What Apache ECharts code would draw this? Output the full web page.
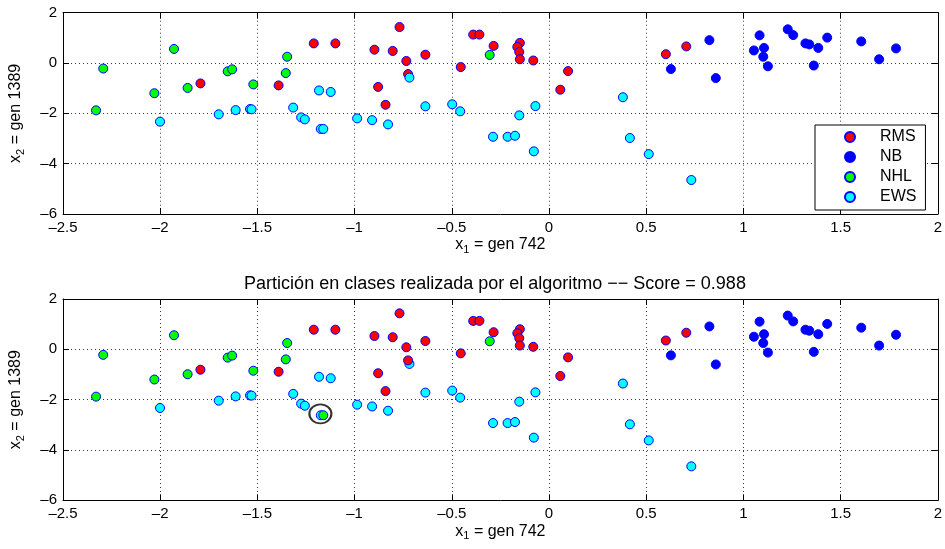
<!DOCTYPE html>
<html>
<head>
<meta charset="utf-8">
<script src="https://cdn.jsdelivr.net/npm/echarts@6/dist/echarts.min.js"></script>
<style>
  html, body { margin: 0; padding: 0; background: #fff; }
  #chart { width: 945px; height: 549px; }
</style>
</head>
<body>
<div id="chart"></div>
<script>
// Expression of two genes per sample, grouped by tumour class (x = gen 742, y = gen 1389)
const classNames = ['RMS', 'NB', 'NHL', 'EWS'];

const rms = [
  [-1.793, -0.81], [-1.391, -0.89], [-1.21, 0.78], [-1.099, 0.78], [-0.769, 1.43],
  [-0.898, 0.53], [-0.804, 0.48], [-0.734, 0.08], [-0.636, 0.33], [-0.725, -0.44],
  [-0.879, -0.95], [-0.841, -1.66], [-0.454, -0.16], [-0.390, 1.13], [-0.358, 1.13],
  [-0.285, 0.68], [-0.150, 0.80], [-0.163, 0.64], [-0.153, 0.44], [-0.150, 0.15],
  [-0.081, 0.10], [0.098, -0.32], [0.058, -1.06], [0.601, 0.35], [0.706, 0.66]
];

const nb = [
  [0.627, -0.24], [0.825, 0.91], [0.858, -0.60], [1.083, 1.10], [1.054, 0.50],
  [1.106, 0.60], [1.102, 0.25], [1.126, -0.13], [1.228, 1.34], [1.256, 1.11],
  [1.319, 0.78], [1.339, 0.74], [1.385, 0.60], [1.362, -0.10], [1.431, 1.01],
  [1.606, 0.86], [1.698, 0.15], [1.785, 0.58]
];

const nhl = [
  [-2.293, -0.22], [-2.33, -1.88], [-1.929, 0.56], [-2.03, -1.20], [-1.859, -0.99],
  [-1.653, -0.33], [-1.630, -0.25], [-1.521, -0.85], [-1.347, 0.25], [-1.354, -0.40],
  [-0.305, 0.32]
];

const ews = [
  [-2.001, -2.33], [-1.699, -2.04], [-1.612, -1.87], [-1.538, -1.83], [-1.530, -1.84],
  [-1.316, -1.77], [-1.275, -2.16], [-1.256, -2.24], [-1.183, -1.09], [-1.123, -1.15],
  [-1.174, -2.62], [-1.161, -2.62], [-0.987, -2.20], [-0.910, -2.27], [-0.828, -2.44],
  [-0.718, -0.58], [-0.636, -1.72], [-0.498, -1.64], [-0.457, -1.92], [-0.288, -2.93],
  [-0.213, -2.93], [-0.175, -2.89], [-0.153, -2.08], [-0.070, -1.71], [-0.078, -3.51],
  [0.380, -1.36], [0.416, -2.98], [0.513, -3.62], [0.732, -4.65]
];

// The one EWS sample the algorithm placed in the NHL group, and the ring drawn around it
const misclassifiedEwsIndex = 11;
const ringCenter = [[-1.176, -2.565]];
const score = 0.988;

// Axis ranges and tick steps
const xRange = [-2.5, 2];
const xStep = 0.5;
const yRange = [-6, 2];
const yStep = 2;

// Predicted partition: same samples, one EWS sample moved to NHL
const ewsPred = ews.filter((p, i) => i !== misclassifiedEwsIndex);
const nhlPred = nhl.concat([ews[misclassifiedEwsIndex]]);

const FONT = 'Liberation Sans, Arial, Helvetica, sans-serif';
const fillColors = { RMS: '#ff0000', NB: '#0000ff', NHL: '#00ff00', EWS: '#00ffff' };
const edgeColor = '#0000ff';

const minusFmt = v => String(v).replace('-', '\u2013');

const nameRich = {
  m: { fontSize: 16, lineHeight: 20, fontFamily: FONT, color: '#000' },
  s: { fontSize: 11, lineHeight: 9, verticalAlign: 'bottom', fontFamily: FONT, color: '#000' }
};

function xAxes(gridIndex) {
  const common = {
    type: 'value', gridIndex, min: xRange[0], max: xRange[1], interval: xStep,
    axisLine: { show: true, onZero: false, lineStyle: { color: '#000', width: 1 } },
    axisTick: { show: true, inside: true, length: 6, lineStyle: { color: '#000' } }
  };
  return [
    Object.assign({}, common, {
      position: 'bottom',
      axisLabel: { show: true, margin: 6, color: '#000', fontFamily: FONT, fontSize: 15, formatter: minusFmt },
      splitLine: { show: true, lineStyle: { color: '#3a3a3a', width: 1, type: [1, 3] } },
      name: '{m|x}{s|1}{m| = gen 742}',
      nameLocation: 'middle',
      nameGap: 21,
      nameTextStyle: { color: '#000', fontFamily: FONT, rich: nameRich }
    }),
    Object.assign({}, common, {
      position: 'top',
      axisLabel: { show: false },
      splitLine: { show: false }
    })
  ];
}

function yAxes(gridIndex) {
  const common = {
    type: 'value', gridIndex, min: yRange[0], max: yRange[1], interval: yStep,
    axisLine: { show: true, onZero: false, lineStyle: { color: '#000', width: 1 } },
    axisTick: { show: true, inside: true, length: 6, lineStyle: { color: '#000' } }
  };
  return [
    Object.assign({}, common, {
      position: 'left',
      axisLabel: { show: true, margin: 6, color: '#000', fontFamily: FONT, fontSize: 15, formatter: minusFmt },
      splitLine: { show: true, lineStyle: { color: '#3a3a3a', width: 1, type: [1, 3] } },
      name: '{m|x}{s|2}{m| = gen 1389}',
      nameLocation: 'middle',
      nameGap: 37,
      nameRotate: 90,
      nameTextStyle: { color: '#000', fontFamily: FONT, rich: nameRich }
    }),
    Object.assign({}, common, {
      position: 'right',
      axisLabel: { show: false },
      splitLine: { show: false }
    })
  ];
}

function scatter(name, data, axisPair) {
  return {
    type: 'scatter', name, data,
    xAxisIndex: axisPair, yAxisIndex: axisPair,
    symbol: 'circle', symbolSize: 9,
    itemStyle: { color: fillColors[name], borderColor: edgeColor, borderWidth: 1, opacity: 1 },
    emphasis: { disabled: true },
    silent: true
  };
}

const chart = echarts.init(document.getElementById('chart'), null, { renderer: 'canvas' });

chart.setOption({
  animation: false,
  backgroundColor: '#fff',
  title: {
    text: 'Partición en clases realizada por el algoritmo \u2212\u2212 Score = ' + score.toFixed(3),
    left: 490, top: 269, textAlign: 'center',
    textStyle: { fontFamily: FONT, fontSize: 18, fontWeight: 'normal', color: '#000', lineHeight: 20 }
  },
  grid: [
    { left: 62.5, right: 3.5, top: 12.7, height: 201.3, containLabel: false },
    { left: 62.5, right: 3.5, top: 299, height: 201.3, containLabel: false }
  ],
  legend: {
    data: classNames,
    orient: 'vertical',
    left: 815, top: 125,
    padding: [2, 9, 3, 29],
    itemGap: 0,
    itemWidth: 10, itemHeight: 10,
    icon: 'circle',
    backgroundColor: '#fff',
    borderColor: '#000', borderWidth: 1,
    selectedMode: false,
    textStyle: { fontFamily: FONT, fontSize: 16, color: '#000', lineHeight: 20, padding: [0, 0, 0, 20] }
  },
  xAxis: [...xAxes(0), ...xAxes(1)],
  yAxis: [...yAxes(0), ...yAxes(1)],
  series: [
    // Classes as labelled
    scatter('RMS', rms, 0),
    scatter('NB', nb, 0),
    scatter('NHL', nhl, 0),
    scatter('EWS', ews, 0),
    // Classes found by the algorithm
    scatter('EWS', ewsPred, 2),
    scatter('NB', nb, 2),
    scatter('NHL', nhlPred, 2),
    scatter('RMS', rms, 2),
    {
      type: 'scatter', name: 'ring', data: ringCenter,
      xAxisIndex: 2, yAxisIndex: 2,
      symbol: 'circle', symbolSize: [22, 19],
      itemStyle: { color: 'rgba(0,0,0,0)', borderColor: '#000', borderWidth: 2 },
      z: 5, silent: true
    }
  ]
});
</script>
</body>
</html>
